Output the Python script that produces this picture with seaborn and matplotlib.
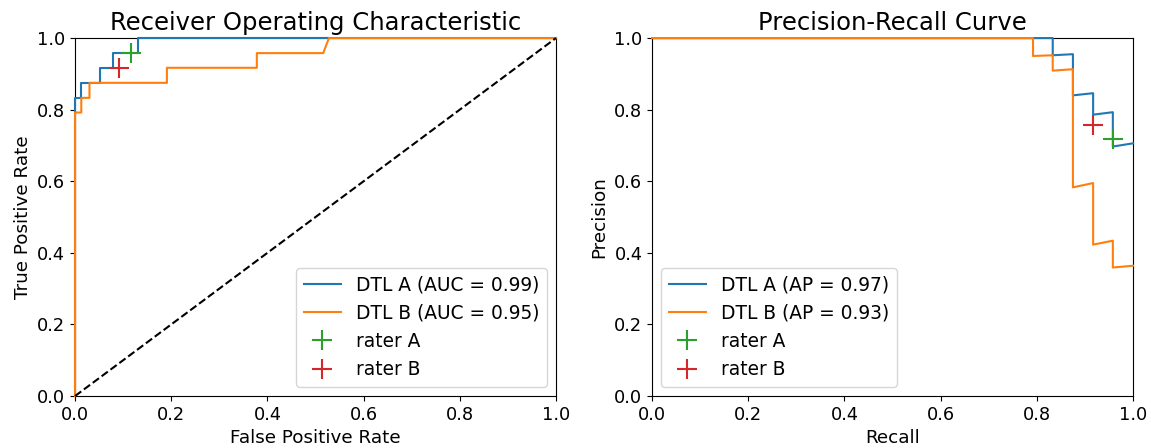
import numpy as np
import matplotlib
matplotlib.use('Agg')
import matplotlib.pyplot as plt
import seaborn as sns

# ROC curves
fpr_a = [0.0, 0.0, 0.013, 0.013, 0.052, 0.052, 0.078, 0.078, 0.130, 0.130, 1.0]
tpr_a = [0.0, 0.833, 0.833, 0.875, 0.875, 0.917, 0.917, 0.958, 0.958, 1.0, 1.0]
fpr_b = [0.0, 0.0, 0.013, 0.013, 0.030, 0.030, 0.191, 0.191, 0.378, 0.378, 0.516, 0.528, 1.0]
tpr_b = [0.0, 0.792, 0.792, 0.833, 0.833, 0.875, 0.875, 0.917, 0.917, 0.958, 0.958, 1.0, 1.0]

# precision-recall curves
recall_a = [0.0, 0.833, 0.833, 0.875, 0.875, 0.917, 0.917, 0.958, 0.958, 1.0]
precision_a = [1.0, 1.0, 0.952, 0.955, 0.840, 0.846, 0.786, 0.793, 0.697, 0.706]
recall_b = [0.0, 0.792, 0.792, 0.833, 0.833, 0.875, 0.875, 0.917, 0.917, 0.958, 0.958, 1.0]
precision_b = [1.0, 1.0, 0.950, 0.952, 0.909, 0.913, 0.583, 0.595, 0.423, 0.434, 0.359, 0.364]

auc_a, auc_b = 0.99, 0.95
ap_a, ap_b = 0.97, 0.93

# human raters
rater_names = ['rater A', 'rater B']
rater_colors = ['tab:green', 'tab:red']
rater_fpr = [0.116, 0.091]
rater_tpr = [0.958, 0.917]
rater_precision = [0.719, 0.757]

TICK = 12.8
LABEL = 13.2
LEGEND = 13.4
TITLE = 17.5


def draw_curve(ax, x, y, label, color):
    # curves sit above the spines, like the reference
    sns.lineplot(x=x, y=y, sort=False, estimator=None, ax=ax, label=label,
                 color=color, linewidth=1.5, clip_on=False, zorder=3)


def draw_raters(ax, xs, ys):
    for name, color, x, y in zip(rater_names, rater_colors, xs, ys):
        ax.plot(x, y, marker='+', linestyle='none', color=color,
                markersize=15, markeredgewidth=1.5, label=name, zorder=4)


def style_axes(ax, title, xlabel, ylabel, loc):
    ax.set_xlim(0, 1)
    ax.set_ylim(0, 1)
    ax.set_xticks(np.arange(0, 1.01, 0.2))
    ax.set_yticks(np.arange(0, 1.01, 0.2))
    ax.tick_params(labelsize=TICK)
    ax.set_title(title, fontsize=TITLE)
    ax.set_xlabel(xlabel, fontsize=LABEL)
    ax.set_ylabel(ylabel, fontsize=LABEL)
    ax.legend(loc=loc, fontsize=LEGEND).set_zorder(5)


def main():
    fig, (ax1, ax2) = plt.subplots(1, 2, figsize=(11.51, 4.48), dpi=100)
    fig.subplots_adjust(left=0.0652, right=0.9844, bottom=0.116, top=0.915, wspace=0.2)

    draw_curve(ax1, fpr_a, tpr_a, f'DTL A (AUC = {auc_a:.2f})', 'tab:blue')
    draw_curve(ax1, fpr_b, tpr_b, f'DTL B (AUC = {auc_b:.2f})', 'tab:orange')
    ax1.plot([0, 1], [0, 1], 'k--', linewidth=1.5, clip_on=False, zorder=3)
    draw_raters(ax1, rater_fpr, rater_tpr)
    style_axes(ax1, 'Receiver Operating Characteristic',
               'False Positive Rate', 'True Positive Rate', 'lower right')

    draw_curve(ax2, recall_a, precision_a, f'DTL A (AP = {ap_a:.2f})', 'tab:blue')
    draw_curve(ax2, recall_b, precision_b, f'DTL B (AP = {ap_b:.2f})', 'tab:orange')
    draw_raters(ax2, rater_tpr, rater_precision)
    style_axes(ax2, 'Precision-Recall Curve', 'Recall', 'Precision', 'lower left')

    plt.savefig('out.png', dpi=100)


if __name__ == "__main__":
    main()
